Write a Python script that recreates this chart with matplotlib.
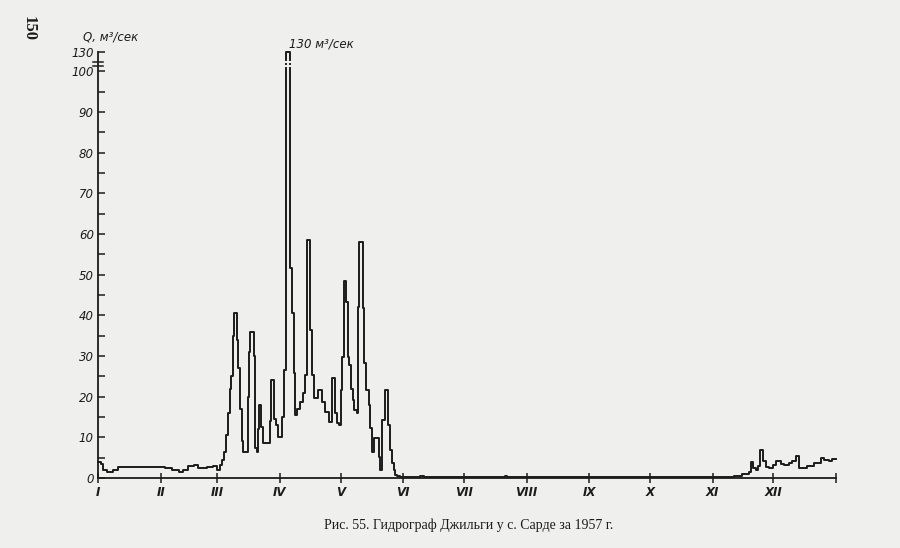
import numpy as np
from matplotlib import pyplot as plt

# day of year (start of step) and discharge Q, m3/s
step_day = [
    0, 1.5, 2.5, 4.5, 7.4, 10, 33, 36.6, 40, 42, 44.5, 47.5, 49.5, 54, 57, 59,
    60.4, 61.4, 62.4, 63.4, 64.4, 65.3, 65.8, 66.8, 67.3, 68.8, 69.3, 70.3, 71,
    71.8, 74.3, 74.8, 75.2, 77, 77.7, 78.5, 79.2, 79.7, 80.7, 81.7, 85.1, 85.6,
    86.8, 88, 88.9, 91, 92, 93, 94.8, 95.9, 96.7, 97.5, 98.4, 99.7, 101.6,
    102.5, 103.3, 104.9, 105.8, 106.6, 109, 110.7, 112.4, 114, 115.7, 117.3,
    118.1, 119, 120.3, 120.8, 121.5, 122.5, 123.4, 124.3, 125, 126, 126.7, 128,
    128.8, 129.3, 131, 131.7, 132.7, 133.8, 134.7, 135.5, 136.3, 138.8, 139.6,
    140.7, 141.7, 143.2, 144.2, 145.4, 146.2, 147, 148, 149.5, 159.4, 161, 164,
    201.5, 202.5, 311.9, 314.5, 318.6, 322, 323.1, 324.1, 325.2, 326.4, 327.4,
    329.1, 330.2, 331.9, 334, 335.1, 337.6, 339.3, 341.7, 343.4, 345.1, 346.7,
    350.5, 354.1, 357.4, 359.1, 361.5, 363.2,
]
step_q = [
    4.0, 3.5, 2.0, 1.5, 2.0, 2.7, 2.5, 2.0, 1.5, 2.0, 3.0, 3.2, 2.5, 2.7, 3.0, 2.0,
    3.2, 4.5, 6.5, 10.5, 16, 22, 25, 35, 40.5, 34, 27, 17, 9,
    6.5, 20, 31, 36, 30, 7.4, 6.5, 12, 18, 12.6, 8.6, 14, 24,
    14.5, 13, 10, 15, 26.5, 130, 51.6, 40.5, 25.8, 15.5, 17, 18.7, 20.9,
    25.3, 58.5, 36.4, 25.3, 19.7, 21.6, 18.7, 16.3, 13.8, 24.5, 16,
    13.5, 13, 21.6, 29.8, 48.4, 43.3, 29.8, 27.8, 22, 19.2, 16.7, 16,
    42, 58, 41.7, 28.2, 21.6, 18, 12.3, 6.5, 9.8, 5.2, 2,
    14.3, 21.6, 13, 6.9, 3.7, 2, 0.8, 0.4, 0.3, 0.5, 0.3, 0.2,
    0.4, 0.2, 0.3, 0.5, 1.0, 1.6, 3.9, 2.5, 2.0, 2.9, 6.8,
    4.1, 2.6, 2.5, 3.3, 4.1, 3.4, 3.3, 3.7, 4.1, 5.3, 2.5,
    2.9, 3.7, 4.9, 4.5, 4.1, 4.7,
]
month_start = [0, 31, 59, 90, 120, 151, 181, 212, 243, 273, 304, 334]
month_names = ['I', 'II', 'III', 'IV', 'V', 'VI', 'VII', 'VIII', 'IX', 'X', 'XI', 'XII']
y_ticks = [0, 10, 20, 30, 40, 50, 60, 70, 80, 90, 100, 130]

INK = '#1c1c1c'
PAPER = '#efefed'


def squeeze(q):
    q = np.asarray(q, dtype=float)
    return np.where(q <= 100, q, 100 + (q - 100) * 0.157)


def unsqueeze(v):
    v = np.asarray(v, dtype=float)
    return np.where(v <= 100, v, 100 + (v - 100) / 0.157)


fig = plt.figure(figsize=(9, 5.48), dpi=100, facecolor=PAPER)
ax = fig.add_axes([0.1089, 0.1277, 0.82, 0.7774])
ax.set_facecolor(PAPER)
ax.set_yscale('function', functions=(squeeze, unsqueeze))

ax.step(step_day + [365], step_q + [step_q[-1]], where='post',
        color=INK, lw=1.4, clip_on=False, zorder=3)

ax.set_xlim(0, 365)
ax.set_ylim(0, 130)

for side in ('top', 'right'):
    ax.spines[side].set_visible(False)
for side in ('left', 'bottom'):
    ax.spines[side].set_color(INK)
    ax.spines[side].set_linewidth(1.3)

ax.set_yticks(y_ticks)
ax.set_yticklabels([str(t) for t in y_ticks], fontstyle='italic', fontsize=8.5, color=INK)
ax.set_yticks([5, 15, 25, 35, 45, 55, 65, 75, 85, 95], minor=True)
ax.tick_params(axis='y', which='both', direction='in', length=5, width=1.1,
               color=INK, pad=3)

ax.set_xticks(month_start + [365])
ax.set_xticklabels(month_names + [''], fontstyle='italic', fontweight='bold',
                   fontsize=8.5, color=INK)
ax.tick_params(axis='x', direction='inout', length=7, width=1.1, color=INK, pad=2)

# break marks on the axis and on the April peak
for q in (108, 114):
    ax.plot([-0.007, 0.007], [q, q], transform=ax.get_yaxis_transform(),
            color=INK, lw=1.1, clip_on=False)
    ax.plot([92.3, 95.5], [q, q], color=PAPER, lw=1.5, clip_on=False, zorder=4)

fig.text(83 / 900, 1 - 37 / 548, 'Q, м³/сек', fontstyle='italic', fontsize=8.5,
         color=INK, ha='left', va='center')
fig.text(289 / 900, 1 - 44 / 548, '130 м³/сек', fontstyle='italic', fontsize=8.5,
         color=INK, ha='left', va='center')
fig.text(29 / 900, 1 - 28 / 548, '150', rotation=270, family='Liberation Serif',
         fontsize=12, fontweight='bold', color=INK, ha='center', va='center')
fig.text(469 / 900, 1 - 525 / 548, 'Рис. 55. Гидрограф Джильги у с. Сарде за 1957 г.',
         family='Liberation Serif', fontsize=10, color=INK, ha='center', va='center')

fig.savefig('out.png', dpi=100, facecolor=PAPER)
